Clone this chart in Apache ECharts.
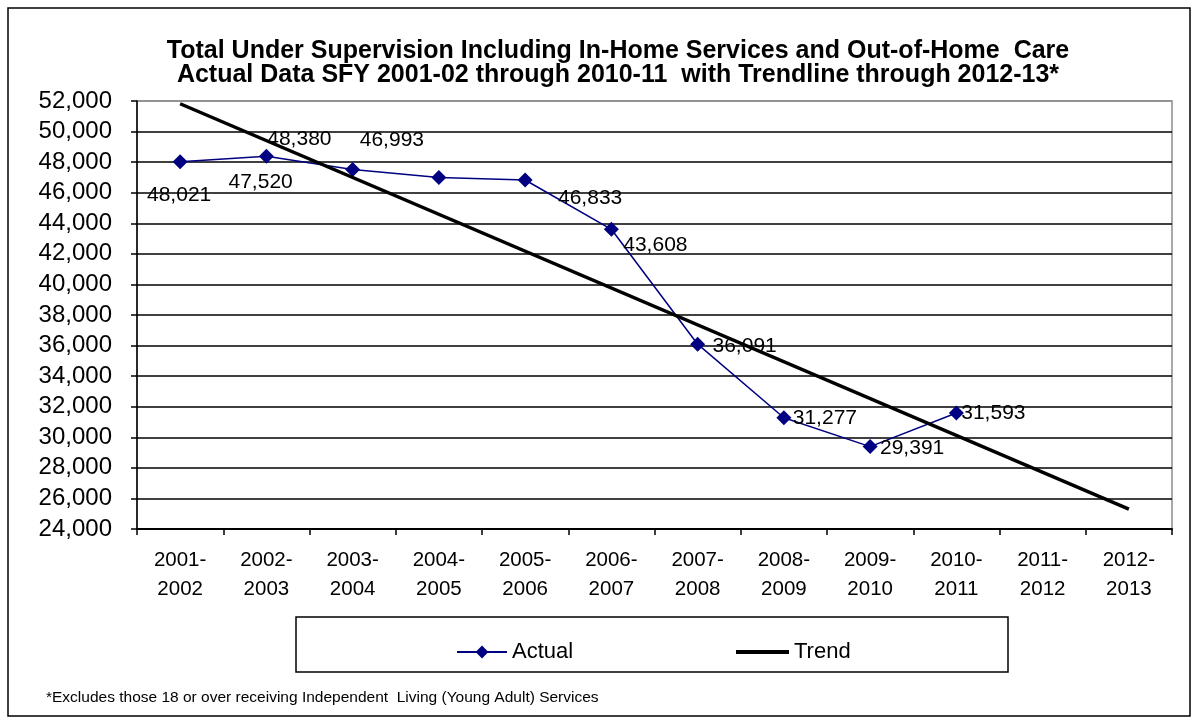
<!DOCTYPE html>
<html>
<head>
<meta charset="utf-8">
<script src="https://cdn.jsdelivr.net/npm/echarts@6/dist/echarts.min.js"></script>
<style>
  html, body { margin: 0; padding: 0; background: #fff; }
  #chart { width: 1199px; height: 724px; }
</style>
</head>
<body>
<div id="chart"></div>
<script>
// Fiscal years on the category axis
const categories = [
  '2001-\n2002', '2002-\n2003', '2003-\n2004', '2004-\n2005', '2005-\n2006', '2006-\n2007',
  '2007-\n2008', '2008-\n2009', '2009-\n2010', '2010-\n2011', '2011-\n2012', '2012-\n2013'
];

// Total under supervision, actual counts SFY 2001-02 .. 2010-11
const actualValues = [48021, 48380, 47520, 46993, 46833, 43608, 36091, 31277, 29391, 31593];

// Linear trend, drawn from its first to its last year
const trendValues = [51820, null, null, null, null, null, null, null, null, null, null, 25300];

// Value axis range and step
const yMin = 24000;
const yMax = 52000;
const yStep = 2000;

// Where each value label sits relative to its marker (px)
const labelOffsets = [
  [-1, 33], [33, -17], [-92, 13], [-47, -37], [65, 18],
  [44, 16], [47, 2], [41, 0], [42, 2], [37, 0]
];

const FONT = '"Liberation Sans", Arial, sans-serif';
const fmt = v => v.toLocaleString('en-US');

const chart = echarts.init(document.getElementById('chart'), null, { renderer: 'canvas' });

// split lines: black inside the plot, grey along its top edge
const splitCount = Math.round((yMax - yMin) / yStep) + 1;
const splitColors = [];
for (let i = 0; i < splitCount; i++) splitColors.push(i === splitCount - 1 ? '#8c8c8c' : '#000');

const legendText = { fontFamily: FONT, fontSize: 22, color: '#000' };

chart.setOption({
  animation: false,
  backgroundColor: '#fff',
  textStyle: { fontFamily: FONT },
  title: {
    text: 'Total Under Supervision Including In-Home Services and Out-of-Home  Care\nActual Data SFY 2001-02 through 2010-11  with Trendline through 2012-13*',
    left: 613,
    textAlign: 'center',
    top: 34,
    textStyle: { fontFamily: FONT, fontSize: 25, fontWeight: 'bold', color: '#000', lineHeight: 24 }
  },
  grid: { left: 137, right: 27, top: 101, bottom: 195, show: true, borderColor: '#8c8c8c', borderWidth: 1.5 },
  legend: [
    {
      left: 451,
      top: 636,
      itemWidth: 50,
      itemHeight: 16,
      textStyle: legendText,
      data: ['Actual']
    },
    {
      left: 731,
      top: 636,
      icon: 'rect',
      itemWidth: 53,
      itemHeight: 4,
      itemStyle: { color: '#000' },
      textStyle: legendText,
      data: ['Trend']
    }
  ],
  xAxis: {
    type: 'category',
    data: categories,
    boundaryGap: true,
    axisLine: { lineStyle: { color: '#000', width: 2 } },
    axisTick: { show: true, length: 6, inside: false, lineStyle: { color: '#000', width: 1.5 } },
    axisLabel: { color: '#000', fontSize: 20.5, lineHeight: 29, margin: 17, interval: 0, fontFamily: FONT },
    splitLine: { show: false }
  },
  yAxis: {
    type: 'value',
    min: yMin,
    max: yMax,
    interval: yStep,
    axisLine: { show: true, lineStyle: { color: '#000', width: 1.5 } },
    axisTick: { show: true, length: 6, lineStyle: { color: '#000', width: 1.5 } },
    axisLabel: { color: '#000', fontSize: 24, margin: 25, formatter: fmt, fontFamily: FONT },
    splitLine: { show: true, lineStyle: { color: splitColors, width: 1.5 } }
  },
  series: [
    {
      name: 'Actual',
      type: 'line',
      data: actualValues.map((v, i) => ({
        value: v,
        label: { offset: labelOffsets[i] }
      })),
      symbol: 'diamond',
      symbolSize: 15,
      itemStyle: { color: '#000080' },
      lineStyle: { color: '#000080', width: 1.5 },
      label: {
        show: true,
        position: 'inside',
        color: '#000',
        fontSize: 21,
        fontFamily: FONT,
        formatter: p => fmt(p.value)
      },
      z: 3
    },
    {
      name: 'Trend',
      type: 'line',
      data: trendValues,
      connectNulls: true,
      symbol: 'none',
      showSymbol: false,
      itemStyle: { color: '#000' },
      lineStyle: { color: '#000', width: 3.5 },
      z: 4
    }
  ],
  graphic: [
    {
      type: 'rect',
      silent: true,
      shape: { x: 8, y: 8, width: 1182, height: 708 },
      style: { fill: 'none', stroke: '#000', lineWidth: 1.5 }
    },
    {
      type: 'rect',
      silent: true,
      shape: { x: 296, y: 617, width: 712, height: 55 },
      style: { fill: 'none', stroke: '#000', lineWidth: 1.5 }
    },
    {
      type: 'text',
      silent: true,
      left: 46,
      top: 690,
      style: {
        text: '*Excludes those 18 or over receiving Independent  Living (Young Adult) Services',
        fill: '#000',
        font: '15.5px ' + FONT
      }
    }
  ]
});
</script>
</body>
</html>
